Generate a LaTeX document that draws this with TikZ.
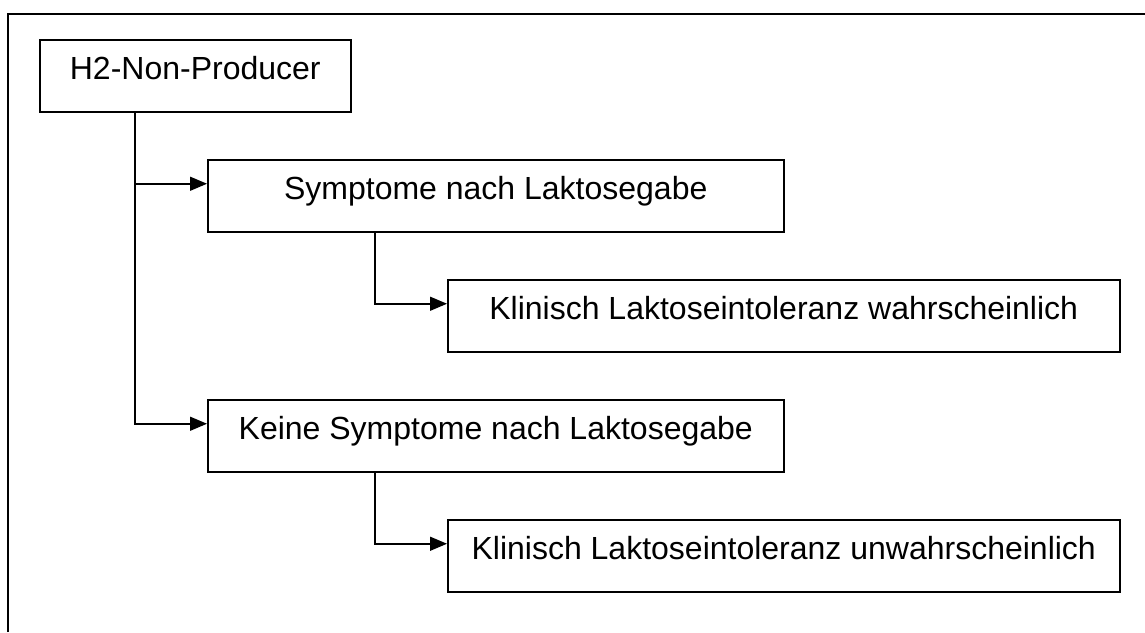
\documentclass[tikz,border=0pt]{standalone}
\usepackage{fontspec}
\setmainfont{Liberation Sans}
\usetikzlibrary{arrows.meta}
\begin{document}
\begin{tikzpicture}[x=1pt,y=-1pt,
  box/.style={draw, line width=1.5pt, inner sep=0pt, anchor=north west,
    minimum height=72pt, text height=40pt, text depth=32pt,
    font=\fontsize{32}{38}\selectfont},
  arr/.style={line width=1.5pt, -{Triangle[length=17pt,width=14pt]}},
  frame/.style={line width=2.2pt}]
\useasboundingbox (0,0) rectangle (1145,632);
\draw[frame] (8,632) -- (8,14) -- (1145,14);
\node[box, minimum width=311pt] (b1) at (39,39) {H2-Non-Producer};
\node[box, minimum width=576pt] (b2) at (207,159) {Symptome nach Laktosegabe};
\node[box, minimum width=672pt] (b3) at (447,279) {Klinisch Laktoseintoleranz wahrscheinlich};
\node[box, minimum width=576pt] (b4) at (207,399) {Keine Symptome nach Laktosegabe};
\node[box, minimum width=672pt] (b5) at (447,519) {Klinisch Laktoseintoleranz unwahrscheinlich};
\coordinate (s1) at (135,111);
\coordinate (s2) at (375,231);
\coordinate (s4) at (375,471);
\draw[arr] (s1) |- ([yshift=12pt]b2.west);
\draw[arr] (s1) |- ([yshift=12pt]b4.west);
\draw[arr] (s2) |- ([yshift=12pt]b3.west);
\draw[arr] (s4) |- ([yshift=12pt]b5.west);
\end{tikzpicture}
\end{document}
